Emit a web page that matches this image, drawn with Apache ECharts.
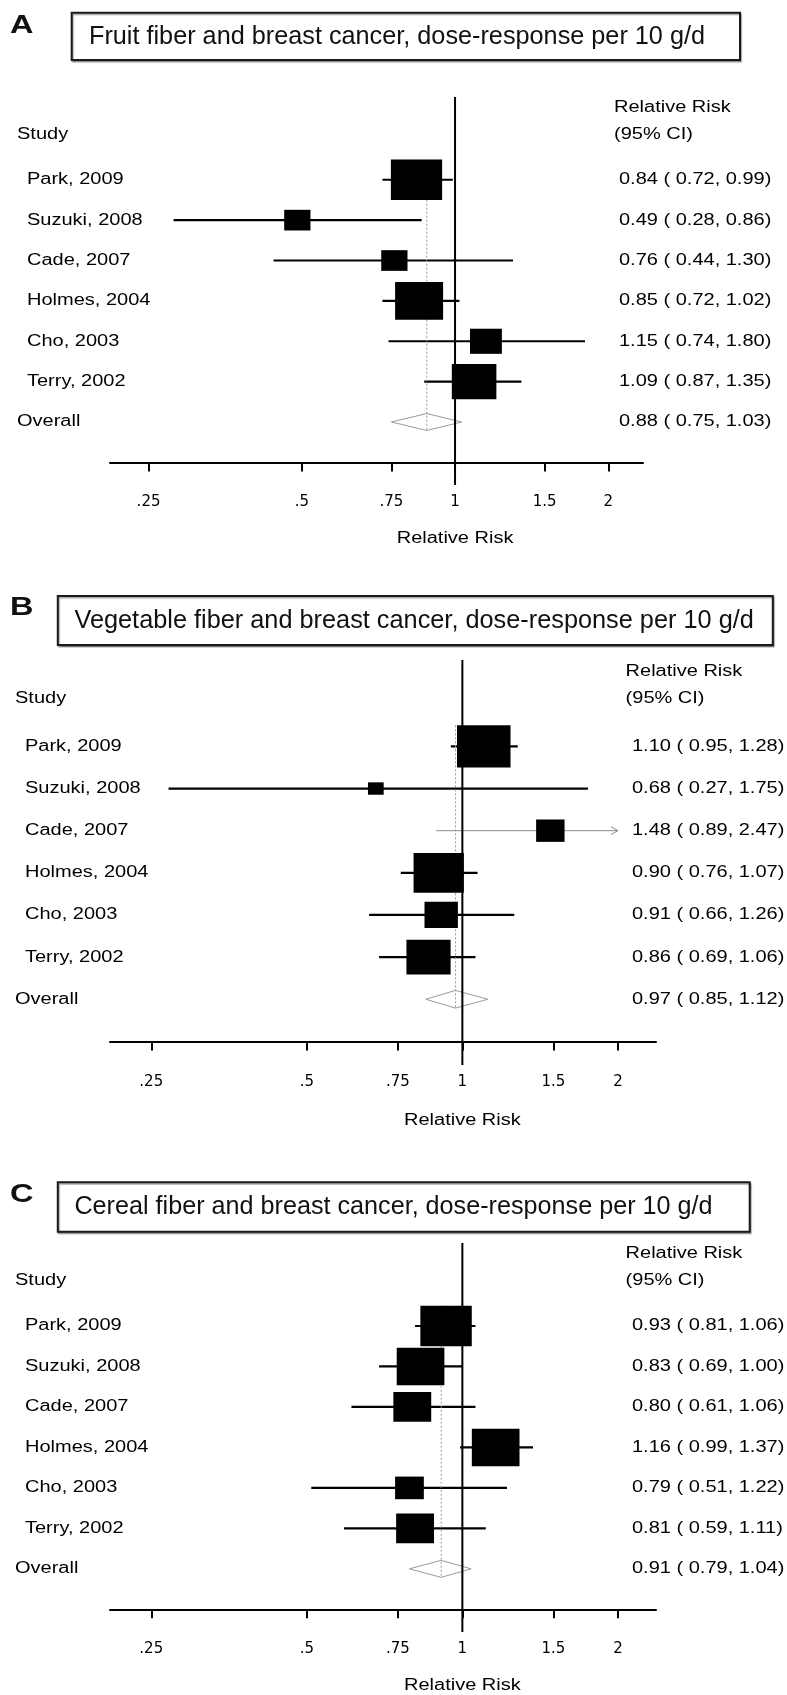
<!DOCTYPE html>
<html>
<head>
<meta charset="utf-8">
<script src="https://cdn.jsdelivr.net/npm/echarts/dist/echarts.min.js"></script>
<style>
  html, body { margin: 0; padding: 0; background: #fff; }
  #forest { width: 787px; height: 1695px; }
</style>
</head>
<body>
<div id="forest"></div>
<script>
// study labels (same order in all three panels)
var studies = ["Park, 2009", "Suzuki, 2008", "Cade, 2007", "Holmes, 2004", "Cho, 2003", "Terry, 2002"];

// A - fruit fiber
var fruitRR = [0.84, 0.49, 0.76, 0.85, 1.15, 1.09];
var fruitLo = [0.72, 0.28, 0.44, 0.72, 0.74, 0.87];
var fruitHi = [0.99, 0.86, 1.30, 1.02, 1.80, 1.35];
var fruitWeight = [28.2, 7.4, 7.4, 24.7, 10.9, 21.3];
var fruitOverall = [0.88, 0.75, 1.03];

// B - vegetable fiber
var vegRR = [1.10, 0.68, 1.48, 0.90, 0.91, 0.86];
var vegLo = [0.95, 0.27, 0.89, 0.76, 0.66, 0.69];
var vegHi = [1.28, 1.75, 2.47, 1.07, 1.26, 1.06];
var vegWeight = [30.1, 2.6, 8.5, 26.6, 11.7, 20.5];
var vegOverall = [0.97, 0.85, 1.12];

// C - cereal fiber
var cerealRR = [0.93, 0.83, 0.80, 1.16, 0.79, 0.81];
var cerealLo = [0.81, 0.69, 0.61, 0.99, 0.51, 0.59];
var cerealHi = [1.06, 1.00, 1.06, 1.37, 1.22, 1.11];
var cerealWeight = [24.3, 20.9, 13.2, 20.9, 7.6, 13.2];
var cerealOverall = [0.91, 0.79, 1.04];

// x axis ticks (relative risk, log scale)
var tickValues = [0.25, 0.5, 0.75, 1, 1.5, 2];
var tickLabels = [".25", ".5", ".75", "1", "1.5", "2"];
var ciClip = 2; // CIs beyond this get an arrow

var panels = [
  { letter: "A", title: "Fruit fiber and breast cancer, dose-response per 10 g/d",
    rr: fruitRR, lo: fruitLo, hi: fruitHi, w: fruitWeight, ov: fruitOverall,
    top: 97, height: 388, width: 533, xmin: 0.21, xmax: 2.34,
    box: [71.7, 12.7, 740, 60], titleX: 89, titleEnd: 705, titleY: 37, letterY: 26,
    nameX: 27, headX: 17, rrX: 619, rrHeadX: 614 },
  { letter: "B", title: "Vegetable fiber and breast cancer, dose-response per 10 g/d",
    rr: vegRR, lo: vegLo, hi: vegHi, w: vegWeight, ov: vegOverall,
    top: 660, height: 405, width: 546, xmin: 0.208, xmax: 2.37,
    box: [57.8, 596, 772.8, 645], titleX: 74.4, titleEnd: 753.8, titleY: 621, letterY: 608,
    nameX: 25, headX: 15, rrX: 632, rrHeadX: 625.6 },
  { letter: "C", title: "Cereal fiber and breast cancer, dose-response per 10 g/d",
    rr: cerealRR, lo: cerealLo, hi: cerealHi, w: cerealWeight, ov: cerealOverall,
    top: 1243, height: 389, width: 546, xmin: 0.208, xmax: 2.37,
    box: [57.8, 1182.3, 749.7, 1231.7], titleX: 74.4, titleEnd: 712.5, titleY: 1207, letterY: 1195,
    nameX: 25, headX: 15, rrX: 632, rrHeadX: 625.6 }
];

var yMin = -9.05, yMax = 0.56;
var FONT = '"Liberation Sans", Arial, sans-serif';
var STRETCH = 1.25;

function fmt(v) { return v.toFixed(2); }
function ciText(e, l, h) { return fmt(e) + " ( " + fmt(l) + ", " + fmt(h) + ")"; }

function measure(str, font) {
  var ctx = document.createElement("canvas").getContext("2d");
  ctx.font = font;
  return ctx.measureText(str).width;
}

function txt(x, y, s, align) {
  return {
    type: "text", x: x, y: y, scaleX: STRETCH,
    style: { text: s, x: 0, y: 0, fill: "#000", fontSize: 16, fontFamily: FONT,
      align: align || "left", textAlign: align || "left",
      verticalAlign: "middle", textVerticalAlign: "middle" }
  };
}

function marksRenderer(p) {
  var wMax = Math.max.apply(null, p.w);
  return function (params, api) {
    var i = params.dataIndex;
    var yv = api.value(1);
    var c = api.coord([api.value(0), yv]);
    var rowH = api.size([0, 1])[1];
    var kids = [];
    if (i === 0) {
      var t = api.coord([0, yMin]), b = api.coord([0, yMax]);
      kids.push({ type: "line", z2: 30, shape: { x1: t[0], y1: t[1], x2: b[0], y2: b[1] },
        style: { stroke: "#000", lineWidth: 2 } });
    }
    if (i < p.rr.length) {
      var clipped = p.hi[i] > ciClip;
      var lo = api.coord([Math.log(p.lo[i]), yv]);
      var hi = api.coord([Math.log(Math.min(p.hi[i], ciClip)), yv]);
      kids.push({ type: "line", z2: 1, shape: { x1: lo[0], y1: c[1], x2: hi[0], y2: c[1] },
        style: { stroke: clipped ? "#8a8a8a" : "#000", lineWidth: clipped ? 1 : 2.2 } });
      if (clipped) {
        kids.push({ type: "polyline", z2: 1,
          shape: { points: [[hi[0] - 7, c[1] - 4], [hi[0], c[1]], [hi[0] - 7, c[1] + 4]] },
          style: { stroke: "#8a8a8a", lineWidth: 1, fill: null } });
      }
      var h = rowH * Math.sqrt(p.w[i] / wMax);
      var bw = h * 1.27;
      kids.push({ type: "rect", z2: 10, shape: { x: c[0] - bw / 2, y: c[1] - h / 2, width: bw, height: h },
        style: { fill: "#000" } });
    } else {
      var dh = rowH * 0.21;
      var top = api.coord([api.value(0), -7.5]);
      var l = api.coord([Math.log(p.ov[1]), yv]);
      var r = api.coord([Math.log(p.ov[2]), yv]);
      kids.push({ type: "line", z2: 2, shape: { x1: top[0], y1: top[1], x2: c[0], y2: c[1] + dh },
        style: { stroke: "#9a9a9a", lineWidth: 1, lineDash: [2, 2] } });
      kids.push({ type: "polygon", z2: 3,
        shape: { points: [[l[0], c[1]], [c[0], c[1] - dh], [r[0], c[1]], [c[0], c[1] + dh]] },
        style: { stroke: "#9a9a9a", lineWidth: 1, fill: null } });
    }
    return { type: "group", children: kids };
  };
}

function textRenderer(p) {
  return function (params, api) {
    var i = params.dataIndex;
    var yv = api.value(1);
    var y = api.coord([0, yv])[1];
    var kids = [];
    if (i === 0) {
      kids.push(txt(p.headX, api.coord([0, -8.13])[1], "Study"));
      kids.push(txt(p.rrHeadX, api.coord([0, -8.78])[1], "Relative Risk"));
      kids.push(txt(p.rrHeadX, api.coord([0, -8.13])[1], "(95% CI)"));
      var at = api.coord([0, 1.88]);
      kids.push(txt(at[0], at[1], "Relative Risk", "center"));
    }
    if (i < p.rr.length) {
      kids.push(txt(p.nameX, y, studies[i]));
      kids.push(txt(p.rrX, y, ciText(p.rr[i], p.lo[i], p.hi[i])));
    } else {
      kids.push(txt(p.headX, y, "Overall"));
      kids.push(txt(p.rrX, y, ciText(p.ov[0], p.ov[1], p.ov[2])));
    }
    return { type: "group", children: kids };
  };
}

function tickLabel(v) {
  var best = 0;
  for (var j = 1; j < tickValues.length; j++) {
    if (Math.abs(Math.log(tickValues[j]) - v) < Math.abs(Math.log(tickValues[best]) - v)) best = j;
  }
  return tickLabels[best];
}

var grids = [], xAxes = [], yAxes = [], series = [], graphics = [];
var titleFont = '25px ' + FONT;

panels.forEach(function (p, k) {
  grids.push({ left: 110, top: p.top, width: p.width, height: p.height, containLabel: false, outerBoundsMode: "none" });
  xAxes.push({
    type: "value", gridIndex: k,
    min: Math.log(p.xmin), max: Math.log(p.xmax),
    splitLine: { show: false },
    axisLine: { show: true, onZero: true, lineStyle: { color: "#000", width: 2 } },
    axisTick: { show: true, length: 9, customValues: tickValues.map(Math.log), lineStyle: { color: "#000", width: 2 } },
    axisLabel: { show: true, margin: 10, customValues: tickValues.map(Math.log), formatter: tickLabel,
      color: "#000", fontSize: 15, fontFamily: '"DejaVu Sans", sans-serif' }
  });
  yAxes.push({ type: "value", gridIndex: k, min: yMin, max: yMax, inverse: true, show: false });

  var rows = p.rr.map(function (v, i) { return [Math.log(v), i - 7]; });
  rows.push([Math.log(p.ov[0]), -1]);

  series.push({ type: "custom", xAxisIndex: k, yAxisIndex: k, silent: true, z: 2,
    encode: { x: 0, y: 1 }, renderItem: marksRenderer(p), data: rows });
  series.push({ type: "custom", xAxisIndex: k, yAxisIndex: k, silent: true, z: 3,
    encode: { x: 0, y: 1 }, renderItem: textRenderer(p), data: rows });

  // panel letter and boxed title
  graphics.push({ type: "text", x: 10, y: p.letterY, scaleX: 1.3,
    style: { text: p.letter, fill: "#111", fontSize: 25, fontWeight: "bold", fontFamily: FONT,
      align: "left", textAlign: "left", verticalAlign: "middle", textVerticalAlign: "middle" } });
  var b = p.box;
  graphics.push({ type: "rect", shape: { x: b[0], y: b[1], width: b[2] - b[0], height: b[3] - b[1] },
    style: { fill: "#fff", stroke: "#1a1a1a", lineWidth: 2, shadowColor: "rgba(0,0,0,0.35)", shadowOffsetX: 1, shadowOffsetY: 1.5, shadowBlur: 1 } });
  var sx = (p.titleEnd - p.titleX) / measure(p.title, titleFont);
  graphics.push({ type: "text", x: p.titleX, y: p.titleY, scaleX: sx, z: 10,
    style: { text: p.title, fill: "#111", fontSize: 25, fontFamily: FONT,
      align: "left", textAlign: "left", verticalAlign: "middle", textVerticalAlign: "middle" } });
});

var chart = echarts.init(document.getElementById("forest"), null, { renderer: "canvas" });
chart.setOption({
  animation: false,
  backgroundColor: "#fff",
  grid: grids,
  xAxis: xAxes,
  yAxis: yAxes,
  graphic: { elements: graphics },
  series: series
});
</script>
</body>
</html>
